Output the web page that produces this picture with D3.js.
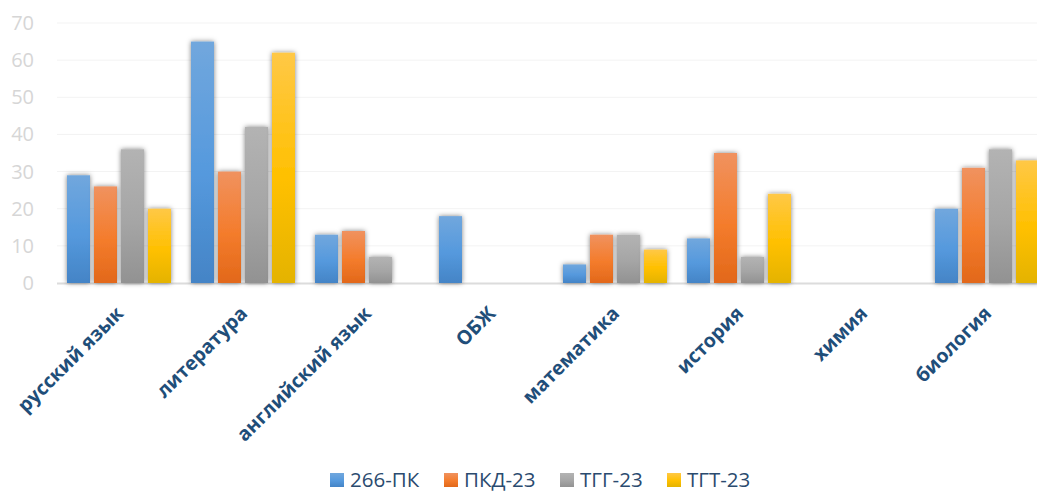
<!DOCTYPE html>
<html><head><meta charset="utf-8">
<script src="https://cdn.jsdelivr.net/npm/d3@7/dist/d3.min.js"></script>
<style>body{margin:0;background:#fff;overflow:hidden}svg{display:block}</style>
</head><body>
<script>
const categories = ["русский язык","литература","английский язык","ОБЖ","математика","история","химия","биология"];
const seriesNames = ["266-ПК","ПКД-23","ТГГ-23","ТГТ-23"];
const s266 = [29,65,13,18,5,12,0,20];
const sPKD = [26,30,14,0,13,35,0,31];
const sTGG = [36,42,7,0,13,7,0,36];
const sTGT = [20,62,0,0,9,24,0,33];
const yTicks = [0,10,20,30,40,50,60,70];
const seriesValues = [s266,sPKD,sTGG,sTGT];

const W=1037,H=493;
const grads = [
  ["#71a7dd","#5599dd","#4484c6"],
  ["#f0925f","#f47c2c","#e2681a"],
  ["#b3b3b3","#a5a5a5","#929292"],
  ["#ffc846","#ffc000","#e4b300"]
];
const svg=d3.select("body").append("svg").attr("width",W).attr("height",H);
const defs=svg.append("defs");
grads.forEach((g,i)=>{
  const lg=defs.append("linearGradient").attr("id","g"+i).attr("x1",0).attr("y1",0).attr("x2",0).attr("y2",1);
  lg.append("stop").attr("offset","0%").attr("stop-color",g[0]);
  lg.append("stop").attr("offset","55%").attr("stop-color",g[1]);
  lg.append("stop").attr("offset","100%").attr("stop-color",g[2]);
});
const f=defs.append("filter").attr("id","sh").attr("x","-50%").attr("y","-50%").attr("width","200%").attr("height","200%");
f.append("feDropShadow").attr("dx",0).attr("dy",0).attr("stdDeviation",2.4).attr("flood-color","#000").attr("flood-opacity",0.5);

const x=d3.scaleBand().domain(categories).range([57,1049]).paddingInner(20/124).paddingOuter(10/124);
const xi=d3.scaleBand().domain(seriesNames).range([0,x.bandwidth()]).paddingInner(4/27).paddingOuter(0);
const y=d3.scaleLinear().domain([0,70]).range([283,23]);

// gridlines
svg.append("g").selectAll("line").data(yTicks.filter(t=>t>0)).join("line")
  .attr("x1",57).attr("x2",W).attr("y1",d=>y(d)).attr("y2",d=>y(d))
  .attr("stroke","#f3f3f3").attr("stroke-width",1);
// y labels
svg.append("g").selectAll("text").data(yTicks).join("text")
  .attr("x",34).attr("y",d=>y(d)).attr("dy","0.35em").attr("text-anchor","end")
  .attr("font-family","'Open Sans',sans-serif").attr("font-size",20).attr("fill","#d6d6d6")
  .text(d=>d);
// baseline
svg.append("line").attr("x1",57).attr("x2",W).attr("y1",y(0)+0.5).attr("y2",y(0)+0.5)
  .attr("stroke","#dcdcdc").attr("stroke-width",2);

// bars
const gg=svg.append("g").selectAll("g").data(categories).join("g")
  .attr("transform",d=>`translate(${x(d)},0)`);
gg.selectAll("rect").data((c,ci)=>seriesNames.map((s,si)=>({s,si,v:seriesValues[si][ci]})).filter(d=>d.v>0)).join("rect")
  .attr("x",d=>xi(d.s)).attr("width",xi.bandwidth())
  .attr("y",d=>y(d.v)).attr("height",d=>y(0)-y(d.v))
  .attr("fill",d=>`url(#g${d.si})`).attr("filter","url(#sh)");

// x labels
svg.append("g").selectAll("text").data(categories).join("text")
  .attr("transform",d=>`translate(${x(d)+x.bandwidth()/2-4},${305}) rotate(-45)`)
  .attr("text-anchor","end").attr("dy","0.7em")
  .attr("font-family","'Open Sans',sans-serif").attr("font-weight","bold").attr("font-size",19.5)
  .attr("fill","#1f4e79").text(d=>d);

// legend
const legX=[330,444,560,667];
const lg=svg.append("g").selectAll("g").data(seriesNames).join("g")
  .attr("transform",(d,i)=>`translate(${legX[i]},${487})`);
lg.append("rect").attr("x",0).attr("y",-14).attr("width",14).attr("height",14).attr("fill",(d,i)=>`url(#g${i})`);
lg.append("text").attr("x",20).attr("y",0).attr("font-family","'Open Sans',sans-serif").attr("font-size",20.5)
  .attr("fill","#2b4b6f").text(d=>d);
</script>
</body></html>
